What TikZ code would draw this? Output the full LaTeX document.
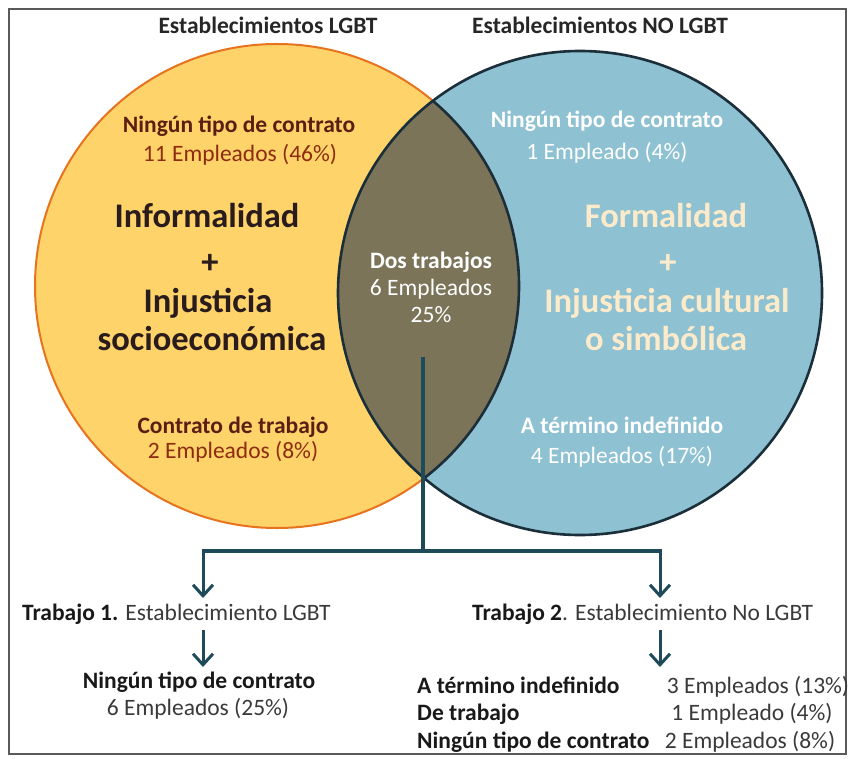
\documentclass[tikz,border=0pt]{standalone}
\usepackage{fontspec}
\setmainfont{Carlito}
\usetikzlibrary{arrows.meta}
\definecolor{yel}{HTML}{FDD36A}
\definecolor{yeledge}{HTML}{E8731E}
\definecolor{blu}{HTML}{8EC1D2}
\definecolor{bluedge}{HTML}{1B2F3B}
\definecolor{lenscol}{HTML}{7B7459}
\definecolor{tealc}{HTML}{1F4A5A}
\definecolor{maroonc}{HTML}{5C1E12}
\definecolor{rustc}{HTML}{8E2C10}
\definecolor{darktxt}{HTML}{2A1C1C}
\definecolor{creamc}{HTML}{FCEBCB}
\definecolor{lighttxt}{HTML}{3A3A3A}
\definecolor{framec}{HTML}{5A5A5A}
\tikzset{
  med/.style={font=\fontsize{23.5}{28}\selectfont, inner sep=0pt},
  medb/.style={font=\fontsize{23.5}{28}\selectfont\bfseries, inner sep=0pt},
  big/.style={font=\fontsize{34.5}{40}\selectfont\bfseries, inner sep=0pt},
  bar/.style={draw=tealc, line width=3.5pt},
  arr/.style={draw=tealc, line width=3pt, -{Straight Barb[length=11pt,width=20pt,line width=3pt]}},
}
\begin{document}
\begin{tikzpicture}[x=1pt,y=-1pt]
\useasboundingbox (0,0) rectangle (850,759);
\fill[white] (0,0) rectangle (850,759);
\draw[framec, line width=1.6pt] (9,9) rectangle (846,754);

% circles
\fill[yel] (277,286) circle[radius=242pt];
\fill[blu] (580,293) circle[radius=242pt];
\begin{scope}
  \clip (580,293) circle[radius=242pt];
  \fill[lenscol] (277,286) circle[radius=242pt];
\end{scope}
\draw[yeledge, line width=2pt] (277,286) circle[radius=242pt];
\draw[bluedge, line width=2.6pt] (580,293) circle[radius=242pt];
\begin{scope}
  \clip (580,293) circle[radius=242pt];
  \draw[bluedge, line width=2.6pt] (277,286) circle[radius=242pt];
\end{scope}

% titles
\node[medb, text=black!85, anchor=base] (tl) at (268,34) {Establecimientos LGBT};
\node[medb, text=black!85, anchor=base] (tr) at (600,34) {Establecimientos NO LGBT};

% left circle
\node[medb, text=maroonc, anchor=base] (l1) at (239,133) {Ningún tipo de contrato};
\node[med, text=rustc, anchor=base] (l2) at (240,162) {11 Empleados (46\%)};
\node[big, text=darktxt, anchor=base] (l3) at (207,227) {Informalidad};
\node[big, text=darktxt, anchor=base] (l4) at (210,273) {+};
\node[big, text=darktxt, anchor=base] (l5) at (208,312) {Injusticia};
\node[big, text=darktxt, anchor=base] (l6) at (212,350) {socioeconómica};
\node[medb, text=maroonc, anchor=base] (l7) at (233,433) {Contrato de trabajo};
\node[med, text=rustc, anchor=base] (l8) at (233,458) {2 Empleados (8\%)};

% right circle
\node[medb, text=white, anchor=base] (r1) at (607,128) {Ningún tipo de contrato};
\node[med, text=white, anchor=base] (r2) at (607,160) {1 Empleado (4\%)};
\node[big, text=creamc, anchor=base] (r3) at (666,228) {Formalidad};
\node[big, text=creamc, anchor=base] (r4) at (668,273) {+};
\node[big, text=creamc, anchor=base] (r5) at (667,312) {Injusticia cultural};
\node[big, text=creamc, anchor=base] (r6) at (666,350) {o simbólica};
\node[medb, text=white, anchor=base] (r7) at (622,433) {A término indefinido};
\node[med, text=white, anchor=base] (r8) at (622,463) {4 Empleados (17\%)};

% lens
\node[medb, text=white, anchor=base] (c1) at (431,268) {Dos trabajos};
\node[med, text=white, anchor=base] (c2) at (431,295) {6 Empleados};
\node[med, text=white, anchor=base] (c3) at (431,322) {25\%};

% connectors
\coordinate (stem) at (423,357);
\coordinate (split) at (423,551);
\coordinate (bl) at (203,551);
\coordinate (br) at (660,551);
\coordinate (bltip) at (203,598);
\coordinate (brtip) at (660,598);
\coordinate (bl2) at (203,630);
\coordinate (bl2tip) at (203,667);
\coordinate (br2) at (660,630);
\coordinate (br2tip) at (660,667);
\draw[draw=tealc, line width=4.5pt] (stem) -- (split);
\draw[bar] ([xshift=-1.5pt]bl) -- ([xshift=1.5pt]br);
\draw[arr] (bl) -- (bltip);
\draw[arr] (br) -- (brtip);
\draw[arr] (bl2) -- (bl2tip);
\draw[arr] (br2) -- (br2tip);

% bottom texts
\node[med, anchor=base west] (t1) at (22,620) {\textbf{\color{black!90}Trabajo 1.} {\color{lighttxt}Establecimiento LGBT}};
\node[med, anchor=base west] (t2) at (472,620) {\textbf{\color{black!90}Trabajo 2}{\color{lighttxt}. Establecimiento No LGBT}};
\node[medb, text=black!90, anchor=base] (b1) at (199,688) {Ningún tipo de contrato};
\node[med, text=lighttxt, anchor=base] (b2) at (198,715) {6 Empleados (25\%)};

\node[medb, text=black!90, anchor=base west] (k1) at (417,693) {A término indefinido};
\node[medb, text=black!90, anchor=base west] (k2) at (417,720) {De trabajo};
\node[medb, text=black!90, anchor=base west] (k3) at (417,748) {Ningún tipo de contrato};
\node[med, text=lighttxt, anchor=base] (v1) at (758,693) {3 Empleados (13\%)};
\node[med, text=lighttxt, anchor=base] (v2) at (752,720) {1 Empleado (4\%)};
\node[med, text=lighttxt, anchor=base] (v3) at (750,748) {2 Empleados (8\%)};
\end{tikzpicture}
\end{document}
